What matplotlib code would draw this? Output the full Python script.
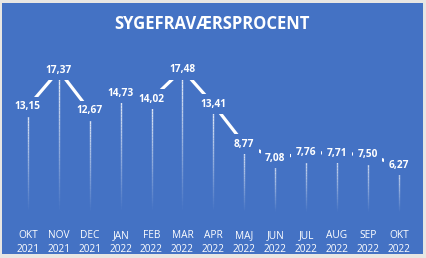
import matplotlib
matplotlib.use("Agg")
import matplotlib.pyplot as plt
from matplotlib.collections import LineCollection
from matplotlib.patches import Rectangle
import numpy as np

months = ["OKT", "NOV", "DEC", "JAN", "FEB", "MAR", "APR", "MAJ", "JUN", "JUL", "AUG", "SEP", "OKT"]
years = ["2021", "2021", "2021", "2022", "2022", "2022", "2022", "2022", "2022", "2022", "2022", "2022", "2022"]
values = [13.15, 17.37, 12.67, 14.73, 14.02, 17.48, 13.41, 8.77, 7.08, 7.76, 7.71, 7.50, 6.27]

blue = "#4472C4"
W, H = 426, 258

fig = plt.figure(figsize=(W / 100, H / 100), dpi=100)
fig.patch.set_facecolor("#E8E6E3")
fig.patches.append(Rectangle((2 / W, 4 / H), 421 / W, 251 / H, transform=fig.transFigure,
                             facecolor=blue, edgecolor="none", zorder=-5))

ax = fig.add_axes([12.5 / W, 39 / H, 401.7 / W, 171 / H])
ax.set_facecolor("none")
ax.set_zorder(1)
x = np.arange(len(values))

# drop lines fading towards the bottom
for xi, v in zip(x, values):
    ys = np.linspace(v, 0.8, 40)
    segs = [[(xi, ys[k]), (xi, ys[k + 1])] for k in range(len(ys) - 1)]
    alphas = np.linspace(0.9, 0.0, len(segs))
    cols = [(1, 1, 1, a) for a in alphas]
    ax.add_collection(LineCollection(segs, colors=cols, linewidths=1.0, zorder=1))

ax.plot(x, values, color="white", lw=2.3, solid_capstyle="butt", zorder=2)

for xi, v in zip(x, values):
    ax.text(xi, v, f"{v:.2f}".replace(".", ","), ha="center", va="center",
            color="white", fontsize=7.3, fontweight="bold", family="Open Sans",
            bbox=dict(facecolor=blue, edgecolor="none", pad=3.2), zorder=3)

ax.set_xlim(-0.5, len(values) - 0.5)
ax.set_ylim(0, 20)
ax.set_xticks(x)
ax.set_xticklabels([f"{m}\n{y}" for m, y in zip(months, years)], color="white",
                   fontsize=7.3, family="Open Sans", linespacing=1.35)
ax.tick_params(axis="x", length=0, pad=8)
ax.set_yticks([])
for s in ax.spines.values():
    s.set_visible(False)

fig.text(212 / W, 1 - 24 / H, "SYGEFRAVÆRSPROCENT", ha="center", va="center",
         color="white", fontsize=12, fontweight="bold", family="Open Sans")

fig.savefig("out.png", dpi=100, facecolor=fig.get_facecolor())
